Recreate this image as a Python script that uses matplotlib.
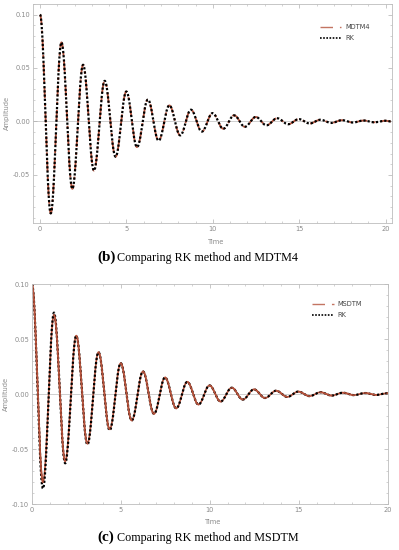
import numpy as np
import matplotlib
matplotlib.use("Agg")
import matplotlib.pyplot as plt
import matplotlib.ticker as ticker
from matplotlib.lines import Line2D

# extrema of the damped oscillation (time, amplitude)
ext_time = [0.0, 0.62, 1.24, 1.87, 2.49, 3.12, 3.74, 4.37, 4.99, 5.61, 6.24,
            6.86, 7.48, 8.11, 8.73, 9.36, 9.98, 10.60, 11.23, 11.85, 12.48,
            13.10, 13.72, 14.35, 14.97, 15.60, 16.22, 16.84, 17.47, 18.09,
            18.72, 19.34, 19.96, 20.3]
ext_rk = [0.100, -0.086, 0.074, -0.063, 0.053, -0.046, 0.038, -0.033, 0.028,
          -0.024, 0.0205, -0.018, 0.015, -0.013, 0.011, -0.0095, 0.0078,
          -0.0068, 0.0057, -0.005, 0.0042, -0.0036, 0.003, -0.0026, 0.0022,
          -0.0019, 0.0016, -0.0014, 0.0012, -0.001, 0.0009, -0.0008, 0.0007,
          0.0]
# MSDTM sits a little above RK in the first troughs
ext_msdtm = [0.100, -0.080, 0.072, -0.061, 0.053, -0.045, 0.038, -0.032, 0.028,
             -0.024, 0.0205, -0.018, 0.015, -0.013, 0.011, -0.0095, 0.0078,
             -0.0068, 0.0057, -0.005, 0.0042, -0.0036, 0.003, -0.0026, 0.0022,
             -0.0019, 0.0016, -0.0014, 0.0012, -0.001, 0.0009, -0.0008, 0.0007,
             0.0]

captions = ["Comparing RK method and MDTM4", "Comparing RK method and MSDTM"]
labels = ["(b)", "(c)"]
method_names = ["MDTM4", "MSDTM"]

RED = "#b5523b"
GRAY = "#8a8a8a"
DASHDOT = (0, (6, 3, 1.5, 3))
DOTS = (0, (1, 0.9))


def curve(tt, aa, n=40):
    # half-cosine segments between successive extrema
    xs, ys = [], []
    for i in range(len(tt) - 1):
        s = np.linspace(0, 1, n, endpoint=False)
        xs.append(tt[i] + (tt[i + 1] - tt[i]) * s)
        ys.append(aa[i] + (aa[i + 1] - aa[i]) * (1 - np.cos(np.pi * s)) / 2)
    return np.concatenate(xs), np.concatenate(ys)


def style_axes(ax, xlim, ylim, time_y):
    ax.set_xlim(*xlim)
    ax.set_ylim(*ylim)
    ax.axhline(0, color="#c8c8c8", lw=0.6, zorder=0)
    ax.xaxis.set_major_locator(ticker.MultipleLocator(5))
    ax.xaxis.set_minor_locator(ticker.MultipleLocator(1))
    ax.yaxis.set_major_locator(ticker.MultipleLocator(0.05))
    ax.yaxis.set_minor_locator(ticker.MultipleLocator(0.01))
    ax.yaxis.set_major_formatter(ticker.FormatStrFormatter("%.2f"))
    ax.tick_params(which="both", direction="in", top=True, right=True,
                   color="#b0b0b0", labelcolor=GRAY, labelsize=4.8, pad=2)
    ax.tick_params(which="major", length=3, width=0.5)
    ax.tick_params(which="minor", length=1.6, width=0.4)
    for sp in ax.spines.values():
        sp.set_color("#bdbdbd")
        sp.set_linewidth(0.6)
    ax.set_xlabel("Time", fontsize=4.8, color=GRAY)
    ax.xaxis.set_label_coords(0.51, time_y)
    ax.set_ylabel("Amplitude", fontsize=4.8, color=GRAY, labelpad=2)


fig = plt.figure(figsize=(3.99, 5.5), dpi=100)
ax1 = fig.add_axes([0.083, 0.5945, 0.899, 0.3985])
ax2 = fig.add_axes([0.080, 0.0836, 0.892, 0.4])

t_rk, y_rk = curve(ext_time, ext_rk)
t_ms, y_ms = curve(ext_time, ext_msdtm)

# panel (b)
ax1.plot(t_ms, y_rk, color=RED, lw=1.3, ls=DASHDOT)
ax1.plot(t_rk, y_rk, color="black", lw=1.6, ls=DOTS)
style_axes(ax1, (-0.4, 20.35), (-0.095, 0.11), -0.075)

# panel (c): MSDTM shows on falling parts, RK dots on rising parts
ax2.plot(t_ms, y_ms, color=RED, lw=1.2)
ax2.plot(t_rk, y_rk, color="black", lw=1.6, ls=DOTS)
y_fall = np.where(np.gradient(y_ms) <= 0, y_ms, np.nan)
ax2.plot(t_ms, y_fall, color=RED, lw=1.2)
style_axes(ax2, (0, 20), (-0.10, 0.10), -0.07)

for ax, name, anchor in [(ax1, method_names[0], (0.955, 0.935)),
                         (ax2, method_names[1], (0.945, 0.95))]:
    handles = [Line2D([], [], color=RED, lw=1.0, ls=(0, (9, 5, 2, 5)), alpha=0.8),
               Line2D([], [], color="black", lw=1.2, ls=DOTS)]
    leg = ax.legend(handles, [name, "RK"], loc="upper right", bbox_to_anchor=anchor,
                    frameon=False, fontsize=4.8, handlelength=3.2,
                    labelspacing=0.75, handletextpad=0.6)
    for txt in leg.get_texts():
        txt.set_color("#444444")

for y, lab, cap in [(0.525, labels[0], captions[0]), (0.017, labels[1], captions[1])]:
    fig.text(0.243, y, lab, fontsize=11, family="Liberation Serif",
             fontweight="bold", va="baseline", ha="left")
    fig.text(0.292, y, cap, fontsize=8.7, family="Liberation Serif",
             va="baseline", ha="left")

fig.savefig("out.png", dpi=100)
